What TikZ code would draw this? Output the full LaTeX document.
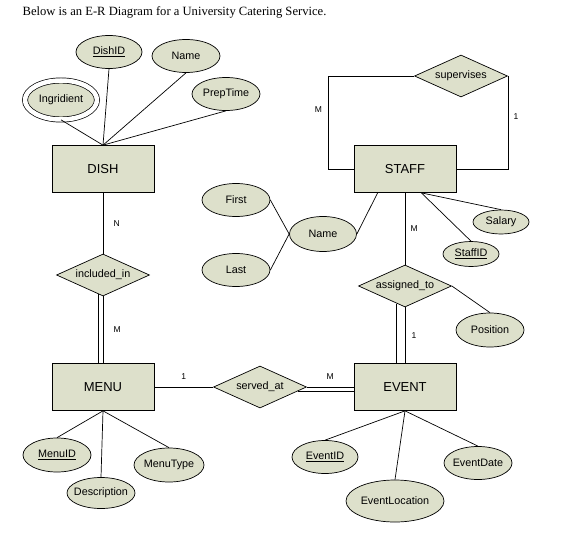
\documentclass[tikz,border=0pt]{standalone}
\usepackage{fontspec}
\setmainfont{Liberation Sans}
\newfontfamily\titlefont{Liberation Serif}
\usetikzlibrary{shapes.geometric}
\definecolor{erfill}{RGB}{221,224,203}

\begin{document}
\begin{tikzpicture}
[x=1pt,y=-1pt,align=center,line width=0.7pt,
 entity/.style={draw,fill=erfill,minimum width=102pt,minimum height=47pt,font=\fontsize{13}{15}\selectfont},
 attr/.style={draw,fill=erfill,ellipse,inner xsep=-6pt,inner ysep=0pt,minimum width=68pt,minimum height=33pt,font=\fontsize{10.8}{12}\selectfont},
 rel/.style={draw,fill=erfill,diamond,aspect=2.2,inner sep=0pt,minimum width=93pt,minimum height=42pt,font=\fontsize{10.8}{12}\selectfont},
 card/.style={font=\fontsize{8.5}{9}\selectfont}]
 \useasboundingbox (0,0) rectangle (580,532);
 \node (title) [anchor=west,font=\titlefont\fontsize{12.6}{14}\selectfont] at (19,12) {Below is an E-R Diagram for a University Catering Service.};

 % entities
 \node (DISH) [entity] at (103,169) {DISH};
 \node (STAFF) [entity] at (405,169) {STAFF};
 \node (MENU) [entity] at (103,387) {MENU};
 \node (EVENT) [entity] at (405,387) {EVENT};

 % relationships
 \node (inc) [rel] at (103,275) {included\_in};
 \node (asg) [rel] at (405,286) {assigned\_to};
 \node (srv) [rel] at (260,387) {served\_at};
 \node (sup) [rel] at (461,76) {supervises};

 % attributes
 \node (dID) [attr,minimum width=66pt] at (109,52) {\underline{DishID}};
 \node (dName) [attr] at (186,56) {Name};
 \node (prep) [attr] at (226,94) {PrepTime};
 \node (ingr) [attr,double,double distance=4.5pt,minimum width=72pt,minimum height=39pt] at (61,100) {Ingridient};
 \node (first) [attr] at (236,200) {First};
 \node (last) [attr] at (236,270) {Last};
 \node (sName) [attr,minimum width=67pt,minimum height=35pt] at (323,234) {Name};
 \node (salary) [attr,minimum width=56pt,minimum height=24pt] at (501,222) {Salary};
 \node (staffid) [attr,minimum width=56pt,minimum height=25pt] at (471,254) {\underline{StaffID}};
 \node (pos) [attr,minimum height=34pt] at (490,330) {Position};
 \node (menuid) [attr,minimum height=34pt] at (57,455) {\underline{MenuID}};
 \node (descr) [attr,minimum height=31pt] at (101,493) {Description};
 \node (mtype) [attr,minimum width=70pt,minimum height=34pt] at (169,465) {MenuType};
 \node (eventid) [attr,minimum width=66pt] at (325,457) {\underline{EventID}};
 \node (eloc) [attr,minimum width=98pt,minimum height=42pt] at (395,501) {EventLocation};
 \node (edate) [attr] at (478,463) {EventDate};

 \draw (DISH.north) edge (dID.south) edge (dName.south) edge (prep.south) edge (ingr.south);
 \draw (sName.west) edge (first.east) edge (last.east);
 \draw ([xshift=24pt]STAFF.south west) edge (sName.east);
 \draw ([xshift=-35pt]STAFF.south east) edge (salary.north) edge (staffid.north);
 \draw (asg.east) edge (pos.north);
 \draw (MENU.south) edge (menuid.north) edge (descr.north) edge (mtype.north);
 \draw (EVENT.south) edge (eventid.north) edge (eloc.north) edge (edate.north);

 \draw (DISH) edge node [card,right=7pt] {N} (inc);
 \draw (inc) edge node [card,right=7pt] {M} (MENU);
 \draw (inc.-105) -- (inc.-105 |- MENU.north);
 \draw (STAFF) edge node [card,right=2pt] {M} (asg);
 \draw (asg) edge node [card,right=3pt] {1} (EVENT);
 \draw (asg.-115) -- (asg.-115 |- EVENT.north);
 \draw (MENU) edge node [card,above=4pt] {1} (srv);
 \draw (srv) edge node [card,above=4pt] {M} (EVENT);
 \draw (srv.-6) -- (srv.-6 -| EVENT.west);
 \draw (sup.west) -| ([xshift=-25pt]STAFF.west) node [card,pos=0.68,left=3pt] {M} -- (STAFF.west);
 \draw (sup.east) -- (sup.east |- STAFF.east) node [card,pos=0.44,right=2pt] {1} -- (STAFF.east);

\end{tikzpicture}
\end{document}
